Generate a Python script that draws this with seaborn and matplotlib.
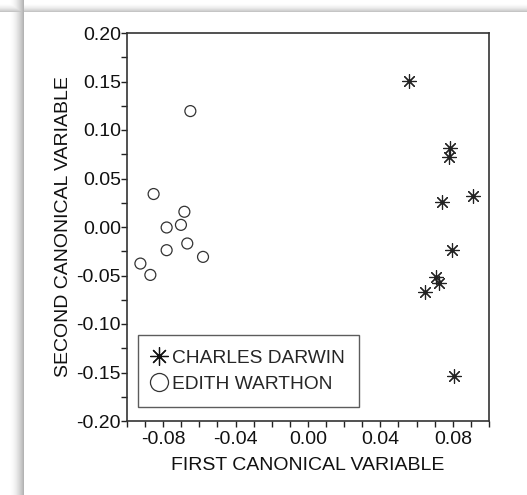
import numpy as np
import pandas as pd
import matplotlib
matplotlib.use("Agg")
import matplotlib.pyplot as plt
from matplotlib.lines import Line2D
import seaborn as sns

# Data
darwin_x = [0.056, 0.0785, 0.0777, 0.091, 0.074, 0.0794, 0.0705, 0.0722, 0.0645, 0.0807]
darwin_y = [0.1508, 0.0813, 0.072, 0.0322, 0.0256, -0.0236, -0.0511, -0.058, -0.0666, -0.1532]
wharton_x = [-0.065, -0.0853, -0.0683, -0.0781, -0.0702, -0.0667, -0.0781, -0.058, -0.0926, -0.0871]
wharton_y = [0.1195, 0.034, 0.0157, -0.0005, 0.0022, -0.017, -0.0239, -0.0308, -0.0377, -0.0494]
labels = ["CHARLES DARWIN", "EDITH WARTHON"]
x_ticklabels = ["-0.08", "-0.04", "0.00", "0.04", "0.08"]
y_ticklabels = ["-0.20", "-0.15", "-0.10", "-0.05", "0.00", "0.05", "0.10", "0.15", "0.20"]

df_d = pd.DataFrame({"x": darwin_x, "y": darwin_y})
df_w = pd.DataFrame({"x": wharton_x, "y": wharton_y})

sns.set_style("white")
plt.rcParams["font.family"] = ["Liberation Sans", "DejaVu Sans"]

fig = plt.figure(figsize=(5.27, 4.95), dpi=100)

# background card with soft shadow on left/top
bg = fig.add_axes([0, 0, 1, 1], zorder=-10)
W, H = 527, 495
xs = np.arange(W)
ys = np.arange(H)
left = np.clip((xs - 8) / 15.0, 0, 1)
left_shade = 1 - 0.30 * left ** 2
left_shade[xs >= 24] = 1.0
top = np.clip((ys - 2) / 10.0, 0, 1)
top_shade = 1 - 0.28 * top ** 2
top_shade[ys >= 12] = 1.0
img = np.minimum(left_shade[None, :], top_shade[:, None])
bg.imshow(img, cmap="gray", vmin=0, vmax=1, aspect="auto", interpolation="nearest")
bg.axis("off")

ax = fig.add_axes([127 / 527, 1 - 421 / 495, 362 / 527, 388 / 495])
ax.set_facecolor("white")

star = (8, 2, 0)
sns.scatterplot(data=df_d, x="x", y="y", ax=ax, marker=star, s=100,
                color="#222222", linewidth=0.85, legend=False)
sns.scatterplot(data=df_w, x="x", y="y", ax=ax, marker="o", s=62,
                facecolors="none", edgecolor="#333333", linewidth=0.9, legend=False)

ax.set_xlim(-0.10, 0.10)
ax.set_ylim(-0.20, 0.20)
ax.set_xticks([float(t) for t in x_ticklabels])
ax.set_xticklabels(x_ticklabels)
ax.set_yticks([float(t) for t in y_ticklabels])
ax.set_yticklabels(y_ticklabels)
ax.set_xticks(np.arange(-0.10, 0.1001, 0.01), minor=True)
ax.set_yticks(np.arange(-0.20, 0.2001, 0.025), minor=True)
ax.tick_params(axis="both", which="both", direction="out", length=4, width=1,
               color="#222222", labelsize=14, labelcolor="#111111",
               bottom=True, left=True)
ax.tick_params(axis="x", which="major", pad=3)
ax.tick_params(axis="y", which="major", pad=0.5)

for sp in ax.spines.values():
    sp.set_color("#333333")
    sp.set_linewidth(1.2)

ax.set_xlabel("FIRST CANONICAL VARIABLE", fontsize=14, color="#111111", labelpad=7)
ax.set_ylabel("SECOND CANONICAL VARIABLE", fontsize=14, color="#111111", labelpad=3)

handles = [
    Line2D([], [], linestyle="none", marker=star, markersize=13,
           markeredgecolor="#111111", markeredgewidth=0.9, color="#111111"),
    Line2D([], [], linestyle="none", marker="o", markersize=13,
           markerfacecolor="none", markeredgecolor="#333333", markeredgewidth=0.9),
]
leg = ax.legend(handles, labels, loc="lower left", bbox_to_anchor=(0.03, 0.036),
                frameon=True, fancybox=False, fontsize=13.8, handlelength=0.7,
                handletextpad=0.35, borderpad=0.75, labelspacing=0.45,
                borderaxespad=0)
leg.get_frame().set_edgecolor("#333333")
leg.get_frame().set_linewidth(1.0)

fig.savefig("out.png", dpi=100)
